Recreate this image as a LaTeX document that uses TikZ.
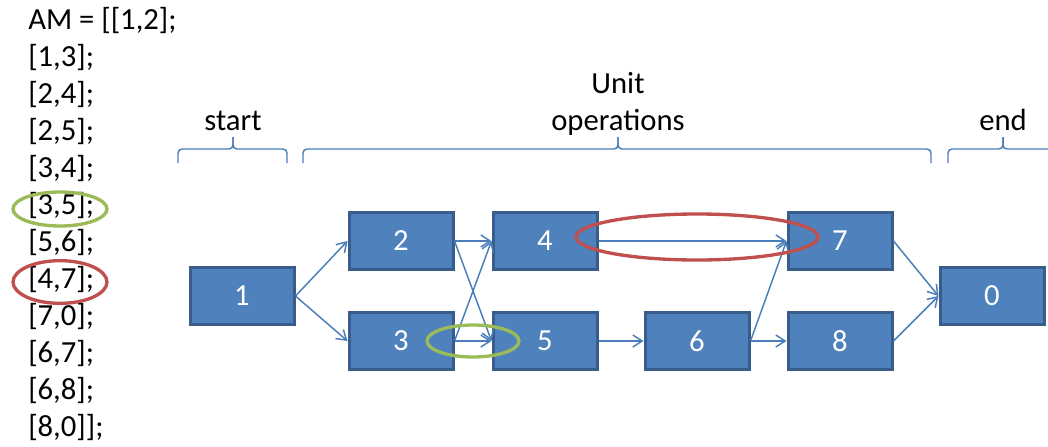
\documentclass[tikz,border=0pt]{standalone}
\usepackage{fontspec}
\setmainfont{Carlito}
\usetikzlibrary{arrows.meta}

\definecolor{boxblue}{HTML}{4F81BD}
\definecolor{boxedge}{HTML}{385D8A}
\definecolor{linkblue}{HTML}{4A7EBB}
\definecolor{ringgreen}{HTML}{9BBB59}
\definecolor{ringred}{HTML}{C0504D}

\begin{document}
\begin{tikzpicture}[x=0.75pt, y=-0.75pt,
    operation/.style ={rectangle, draw=boxedge, fill=boxblue, line width=2.25pt,
      minimum width=78pt, minimum height=42.75pt, text=white,
      font=\fontsize{23}{27}\selectfont},
    link/.style ={linkblue, line width=1.1pt, -{Straight Barb[length=7pt,width=9pt]}},
    bracket/.style ={linkblue, line width=1.1pt, rounded corners=3pt},
    heading/.style ={anchor=base, inner sep=0pt, font=\fontsize{23}{27}\selectfont},
    listline/.style ={anchor=base west, inner sep=0pt, font=\fontsize{23}{27}\selectfont},
    ring/.style ={line width=2.5pt}]
   \useasboundingbox (0,0) rectangle (1048,446);

   % adjacency list
   \node[listline] (l1)  at (28,29)  {AM = [[1,2];};
   \node[listline] (l2)  at (28,66)  {[1,3];};
   \node[listline] (l3)  at (28,103) {[2,4];};
   \node[listline] (l4)  at (28,140) {[2,5];};
   \node[listline] (l5)  at (28,177) {[3,4];};
   \node[listline] (l6)  at (28,214) {[3,5];};
   \node[listline] (l7)  at (28,251) {[5,6];};
   \node[listline] (l8)  at (28,288) {[4,7];};
   \node[listline] (l9)  at (28,325) {[7,0];};
   \node[listline] (l10) at (28,362) {[6,7];};
   \node[listline] (l11) at (28,399) {[6,8];};
   \node[listline] (l12) at (28,436) {[8,0]];};

   % unit operations
   \node[operation] (n1) at (242,296) {1};
   \node[operation] (n2) at (401,241) {2};
   \node[operation] (n3) at (401,341) {3};
   \node[operation] (n4) at (545,241) {4};
   \node[operation] (n5) at (545,341) {5};
   \node[operation] (n6) at (697,341) {6};
   \node[operation] (n7) at (840,241) {7};
   \node[operation] (n8) at (840,341) {8};
   \node[operation] (n0) at (992,296) {0};

   \draw[link] (n1.east) -- (n2.west);
   \draw[link] (n1.east) -- (n3.west);
   \draw[link] (n2.east) -- (n4.west);
   \draw[link] (n2.east) -- (n5.west);
   \draw[link] (n3.east) -- (n4.west);
   \draw[link] (n3.east) -- (n5.west);
   \draw[link] (n5.east) -- (n6.west);
   \draw[link] (n4.east) -- (n7.west);
   \draw[link] (n7.east) -- (n0.west);
   \draw[link] (n6.east) -- (n7.west);
   \draw[link] (n6.east) -- (n8.west);
   \draw[link] (n8.east) -- (n0.west);

   % braces and their headings
   \draw[bracket] (178,163) |- (233,149) -- (233,137);
   \draw[bracket] (287,163) |- (233,149) -- (233,137);
   \draw[bracket] (303,163) |- (618,149) -- (618,137);
   \draw[bracket] (931,163) |- (618,149) -- (618,137);
   \draw[bracket] (948,163) |- (1003,149) -- (1003,137);
   \draw[bracket] (1058,163) |- (1003,149) -- (1003,137);
   \node[heading] (start) at (233,130) {start};
   \node[heading] (unit)  at (618,93)  {Unit};
   \node[heading] (ops)   at (618,130) {operations};
   \node[heading] (end)   at (1003,130) {end};

   % highlighted pairs
   \draw[ring, ringgreen] (60,209) ellipse [x radius=35.25pt, y radius=12.75pt];
   \draw[ring, ringred]   (60,282) ellipse [x radius=35.25pt, y radius=16pt];
   \draw[ring, ringgreen] (473,341) ellipse [x radius=34.5pt, y radius=12pt];
   \draw[ring, ringred]   (697,237) ellipse [x radius=90.75pt, y radius=17.25pt];
 \end{tikzpicture}
\end{document}
